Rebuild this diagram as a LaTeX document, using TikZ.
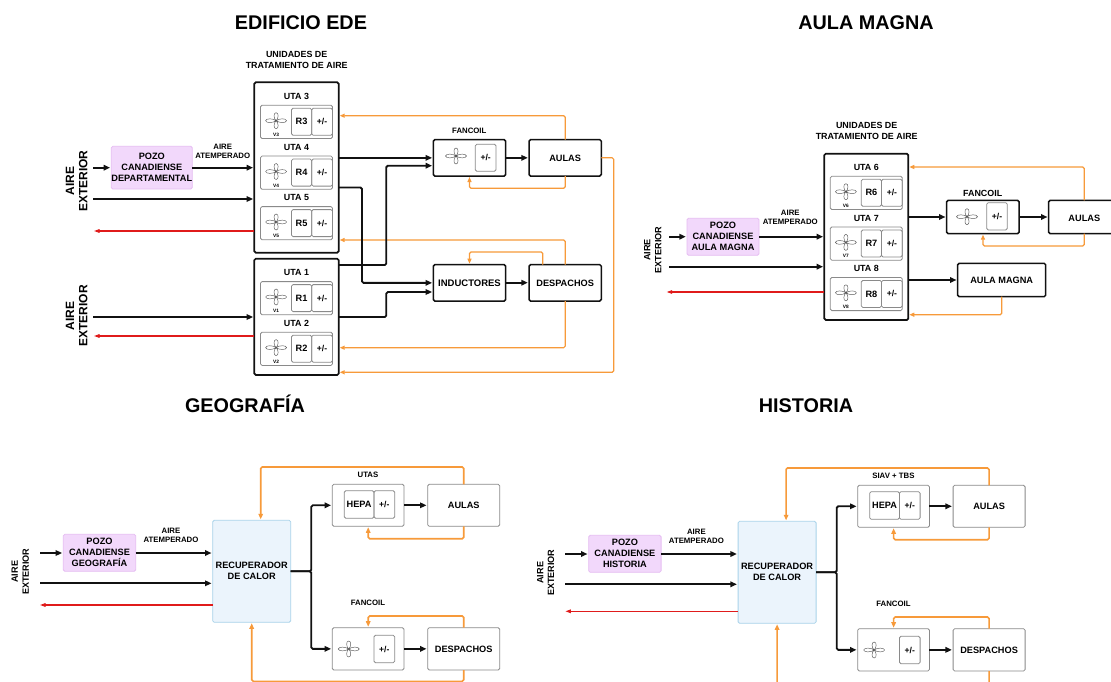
\documentclass[tikz,border=0pt]{standalone}
\usepackage{fontspec}
\setmainfont{Liberation Sans}
\usetikzlibrary{arrows.meta}
\definecolor{ink}{HTML}{111111}
\definecolor{grayline}{HTML}{8A8A8A}
\definecolor{orangeline}{HTML}{F79A3A}
\definecolor{redline}{HTML}{E01B1B}
\definecolor{pozofill}{HTML}{F2D8FB}
\definecolor{pozoline}{HTML}{E6BDF2}
\definecolor{recfill}{HTML}{EBF4FC}
\definecolor{recline}{HTML}{A9D3EA}
\newcommand{\fs}[2]{\fontsize{#1}{#2}\selectfont\bfseries}
\tikzset{
  bxbase/.style={rectangle,inner sep=0pt,outer sep=0pt,rounded corners=1.5pt,align=center,font=\fs{9.2}{11}},
  heavybox/.style={bxbase,draw=ink,line width=1.5pt},
  heavierbox/.style={bxbase,draw=ink,line width=1.7pt},
  graybox/.style={bxbase,draw=grayline,line width=.8pt},
  pozobox/.style={bxbase,draw=pozoline,fill=pozofill,line width=.8pt},
  recbox/.style={bxbase,draw=recline,fill=recfill,line width=.8pt},
  title/.style={font=\fs{19.8}{22},anchor=base,inner sep=0pt},
  lbl/.style={font=\fs{7.8}{9.3},align=center,inner sep=0pt},
  lblb/.style={font=\fs{8.9}{11},align=center,inner sep=0pt},
  extlarge/.style={font=\fs{12}{13.3},align=center,rotate=90,inner sep=0pt},
  extsmall/.style={font=\fs{9.1}{10.8},align=center,rotate=90,inner sep=0pt},
  blk/.style={draw=ink,line width=1.8pt,rounded corners=1.5pt,-{Triangle[length=6.5pt,width=5.5pt]},shorten >=1.2pt},
  org/.style={draw=orangeline,line width=1.2pt,rounded corners=1.5pt,-{Triangle[length=5pt,width=4pt]},shorten >=1pt},
  orgb/.style={draw=orangeline,line width=1.6pt,rounded corners=1.5pt,-{Triangle[length=5.5pt,width=4.5pt]},shorten >=1pt},
  rd/.style={draw=redline,line width=1.1pt,-{Triangle[length=5.5pt,width=3.6pt]}},
  pics/fanicon/.style={code={
    \draw[draw=ink!70,line width=.45pt]
      (0,0) .. controls (3,-2.4) and (10,-2.6) .. (10.5,0) .. controls (10,2.6) and (3,2.4) .. (0,0)
      (0,0) .. controls (-3,-2.4) and (-10,-2.6) .. (-10.5,0) .. controls (-10,2.6) and (-3,2.4) .. (0,0)
      (0,0) .. controls (-2.4,-2) and (-3,-8) .. (0,-8) .. controls (3,-8) and (2.4,-2) .. (0,0)
      (0,0) .. controls (-2.4,2) and (-3,8) .. (0,8) .. controls (3,8) and (2.4,2) .. (0,0);
  }},
}
% box from corners: [style]{name}{x1}{y1}{x2}{y2}{text}
\newcommand{\bx}[7][graybox]{%
  \pgfmathsetmacro\bxw{#5-#3}\pgfmathsetmacro\bxh{#6-#4}%
  \pgfmathsetmacro\bxcx{(#5+#3)/2}\pgfmathsetmacro\bxcy{(#6+#4)/2}%
  \node[#1,minimum width=\bxw pt,minimum height=\bxh pt] (#2) at (\bxcx,\bxcy) {#7};}
% UTA block: {id}{label}{x1}{y1}
\newcommand{\uta}[4]{%
  \pgfmathsetmacro\ux{#3}\pgfmathsetmacro\uy{#4}%
  \pgfmathsetmacro\ua{\ux+72}\pgfmathsetmacro\ub{\uy+33.2}%
  \pgfmathsetmacro\uc{\ux+31}\pgfmathsetmacro\ud{\ux+51.2}%
  \pgfmathsetmacro\ue{\uy+3}\pgfmathsetmacro\uf{\uy+30}%
  \pgfmathsetmacro\ug{\ux+15.6}\pgfmathsetmacro\uh{\uy+15.4}%
  \pgfmathsetmacro\ui{\uy+29.3}\pgfmathsetmacro\uj{\ux+36}\pgfmathsetmacro\uk{\uy-8.7}%
  \bx{uta#1}{\ux}{\uy}{\ua}{\ub}{}
  \bx{r#1}{\uc}{\ue}{\ud}{\uf}{R#1}
  \bx[graybox,font=\fs{8.6}{10}]{pm#1}{\ud}{\ue}{\ua}{\uf}{+/-}
  \pic at (\ug,\uh) {fanicon};
  \node[font=\fs{4.8}{5},inner sep=0pt] (v#1) at (\ug,\ui) {V#1};
  \node[lblb] (t#1) at (\uj,\uk) {#2};}
% Lower blocks: {id}{dx}{dy}{pozo line}{unit label}{red y}{bottom y}
\newcommand{\plant}[7]{%
\begin{scope}[shift={(#2,#3)}]
  \bx[pozobox]{#1pozo}{63.3}{534.3}{135.7}{571.3}{POZO\\CANADIENSE\\#4}
  \bx[recbox]{#1rec}{212.7}{520.3}{290.7}{622.3}{RECUPERADOR\\DE CALOR}
  \bx{#1unit}{332.3}{484.3}{404}{526.3}{}
  \bx{#1aulas}{427.7}{484.3}{499.7}{526.3}{AULAS}
  \bx{#1hepa}{344.3}{490.7}{374}{518.3}{HEPA}
  \bx[graybox,font=\fs{8.6}{10}]{#1pmu}{374}{490.7}{394.7}{518.3}{+/-}
  \bx{#1fan}{332.3}{627.7}{404}{670}{}
  \bx{#1desp}{427.7}{627.7}{499.7}{670}{DESPACHOS}
  \bx[graybox,font=\fs{8.6}{10}]{#1pmf}{374}{635.3}{394.7}{662.7}{+/-}
  \pic at (348.7,649) {fanicon};
  \node[extsmall] (#1ext) at (20.3,571.7) {AIRE\\EXTERIOR};
  \node[lbl] (#1atm) at (171,535.2) {AIRE\\ATEMPERADO};
  \node[lbl] (#1lu) at (368,474.7) {#5};
  \node[lbl] (#1lf) at (368,603.3) {FANCOIL};
  \coordinate (#1in) at (40,553);
  \coordinate (#1in2) at (40,583.3);
  \coordinate (#1out) at (40,#6);
  \coordinate (#1fork) at (311.3,571.3);
  \draw[blk] (#1in) -- (#1pozo.west |- #1in);
  \draw[blk] (#1pozo.east |- #1in) -- (#1rec.west |- #1in);
  \draw[blk] (#1in2) -- (#1rec.west |- #1in2);
  \draw[rd] (#1rec.west |- #1out) -- (#1out);
  \draw[blk] (#1rec.east) -- (#1fork) |- (#1unit.west);
  \draw[blk] (#1rec.east) -- (#1fork) |- (#1fan.west);
  \draw[blk] (#1unit.east) -- (#1aulas.west);
  \draw[blk] (#1fan.east) -- (#1desp.west);
  \draw[orgb] (#1aulas.north) |- (260.7,467) -- (260.7,0 |- #1rec.north);
  \draw[orgb] (#1aulas.south) |- (368.3,538.7) -- (#1unit.south);
  \draw[orgb] (#1desp.north) |- (368.3,616) -- (#1fan.north);
  \draw[orgb] (#1desp.south) |- (251.7,#7) -- (#1rec.south);
\end{scope}}
\begin{document}
\begin{tikzpicture}[x=1pt,y=-1pt]
\clip (0,0) rectangle (1111,682);
\fill[white] (0,0) rectangle (1111,682);
% titles
\node[title] (tede) at (301,30) {EDIFICIO EDE};
\node[title] (tam) at (866,30) {AULA MAGNA};
\node[title] (tgeo) at (245,412) {GEOGRAFÍA};
\node[title] (this) at (806,412) {HISTORIA};
% ---------- EDIFICIO EDE
\node[lblb] (uni1) at (296.7,59.8) {UNIDADES DE\\TRATAMIENTO DE AIRE};
\bx[heavierbox]{ede1}{254.3}{82.3}{338.7}{252.7}{}
\bx[heavierbox]{ede2}{254.3}{258.7}{338.7}{375}{}
\uta{3}{UTA 3}{260.5}{105.3}
\uta{4}{UTA 4}{260.5}{156.1}
\uta{5}{UTA 5}{260.5}{206.6}
\uta{1}{UTA 1}{260.5}{281.6}
\uta{2}{UTA 2}{260.5}{332.2}
\bx[pozobox]{pozoe}{111.3}{146.3}{192.3}{189}{POZO\\CANADIENSE\\DEPARTAMENTAL}
\bx[heavybox]{fce}{433.3}{139.7}{505.7}{176}{}
\bx[graybox,font=\fs{8.6}{10}]{pmfce}{475.3}{144.3}{496}{171.3}{+/-}
\pic at (456,156) {fanicon};
\bx[heavybox]{aulae}{529}{139.7}{601.3}{176}{AULAS}
\bx[heavybox,font=\fs{9.5}{11}]{inde}{433.3}{264.7}{505.7}{301}{INDUCTORES}
\bx[heavybox]{despe}{529}{264.7}{601.3}{301}{DESPACHOS}
\node[lbl] (atme) at (222.7,151.2) {AIRE\\ATEMPERADO};
\node[lbl] (lfce) at (469.3,131.3) {FANCOIL};
\node[extlarge] (ext1) at (76.7,181.3) {AIRE\\EXTERIOR};
\node[extlarge] (ext2) at (76.7,315.7) {AIRE\\EXTERIOR};
\coordinate (e1) at (93.3,167.7);
\coordinate (e2) at (93.3,199);
\coordinate (e3) at (94,231);
\coordinate (e4) at (93.3,317);
\coordinate (e5) at (94,336);
\draw[org] (aulae.north) |- (ede1.east |- 0,115.7);
\draw[org] (aulae.south) |- (469.5,188.3) -- (fce.south);
\draw[org] (aulae.east) -| (613.7,300) |- (ede2.east |- 0,372.3);
\draw[org] (despe.north) |- (ede1.east |- 0,240);
\draw[org] (542.7,0 |- despe.north) |- (469.5,252) -- (inde.north);
\draw[org] (despe.south) |- (ede2.east |- 0,347.7);
\draw[blk] (e1) -- (pozoe.west |- e1);
\draw[blk] (pozoe.east |- e1) -- (ede1.west |- e1);
\draw[blk] (e2) -- (ede1.west |- e2);
\draw[rd] (ede1.west |- e3) -- (e3);
\draw[blk] (e4) -- (ede2.west |- e4);
\draw[rd] (ede2.west |- e5) -- (e5);
\draw[blk] (ede1.east |- fce.west) -- (fce.west);
\draw[blk] (ede1.east |- 0,187.5) -| (362,270) |- (inde.west);
\draw[blk] (ede2.east |- 0,265) -| (386.3,200) |- (fce.west |- 0,165.7);
\draw[blk] (ede2.east |- 0,317) -| (386.3,300) |- (inde.west |- 0,292);
\draw[blk] (fce.east) -- (aulae.west);
\draw[blk] (inde.east |- 0,282.7) -- (despe.west |- 0,282.7);
% ---------- AULA MAGNA
\node[lblb] (uni2) at (866.7,130.8) {UNIDADES DE\\TRATAMIENTO DE AIRE};
\bx[heavierbox]{am}{824.3}{153.7}{908.3}{320}{}
\uta{6}{UTA 6}{830.3}{176.3}
\uta{7}{UTA 7}{830.3}{227}
\uta{8}{UTA 8}{830.3}{277.4}
\bx[pozobox]{pozoa}{687}{218.3}{759}{255.3}{POZO\\CANADIENSE\\AULA MAGNA}
\bx[heavybox]{fca}{946.7}{200.3}{1019}{233.7}{}
\bx[graybox,font=\fs{8.6}{10}]{pmfca}{986.7}{202.7}{1007.3}{230}{+/-}
\pic at (967,216.7) {fanicon};
\bx[heavybox]{aulaa}{1048.7}{200.3}{1120}{233.7}{}
\node[bxbase] (aulaat) at (1084.3,218) {AULAS};
\bx[heavybox]{magna}{957.7}{263.3}{1045.7}{296.7}{AULA MAGNA}
\node[lbl] (atma) at (790.3,217.7) {AIRE\\ATEMPERADO};
\node[lblb] (lfca) at (982.7,193) {FANCOIL};
\node[extsmall] (exta) at (652.8,250) {AIRE\\EXTERIOR};
\coordinate (a1) at (669.3,236.7);
\coordinate (a2) at (669.3,266.7);
\coordinate (a3) at (666.7,292);
\draw[org] (1084.3,0 |- aulaa.north) |- (am.east |- 0,167);
\draw[org] (1084.3,0 |- aulaa.south) |- (983,246) -- (983,0 |- fca.south);
\draw[org] (1001.7,0 |- magna.south) |- (am.east |- 0,314.7);
\draw[blk] (a1) -- (pozoa.west |- a1);
\draw[blk] (pozoa.east |- a1) -- (am.west |- a1);
\draw[blk] (a2) -- (am.west |- a2);
\draw[rd] (am.west |- a3) -- (a3);
\draw[blk] (am.east |- fca.west) -- (fca.west);
\draw[blk] (fca.east) -- (aulaa.west);
\draw[blk] (am.east |- magna.west) -- (magna.west);
% ---------- GEOGRAFIA / HISTORIA
\plant{g}{0}{0}{GEOGRAFÍA}{UTAS}{605}{681.3}
\plant{h}{525.4}{1}{HISTORIA}{SIAV + TBS}{610.3}{695}
\end{tikzpicture}
\end{document}
